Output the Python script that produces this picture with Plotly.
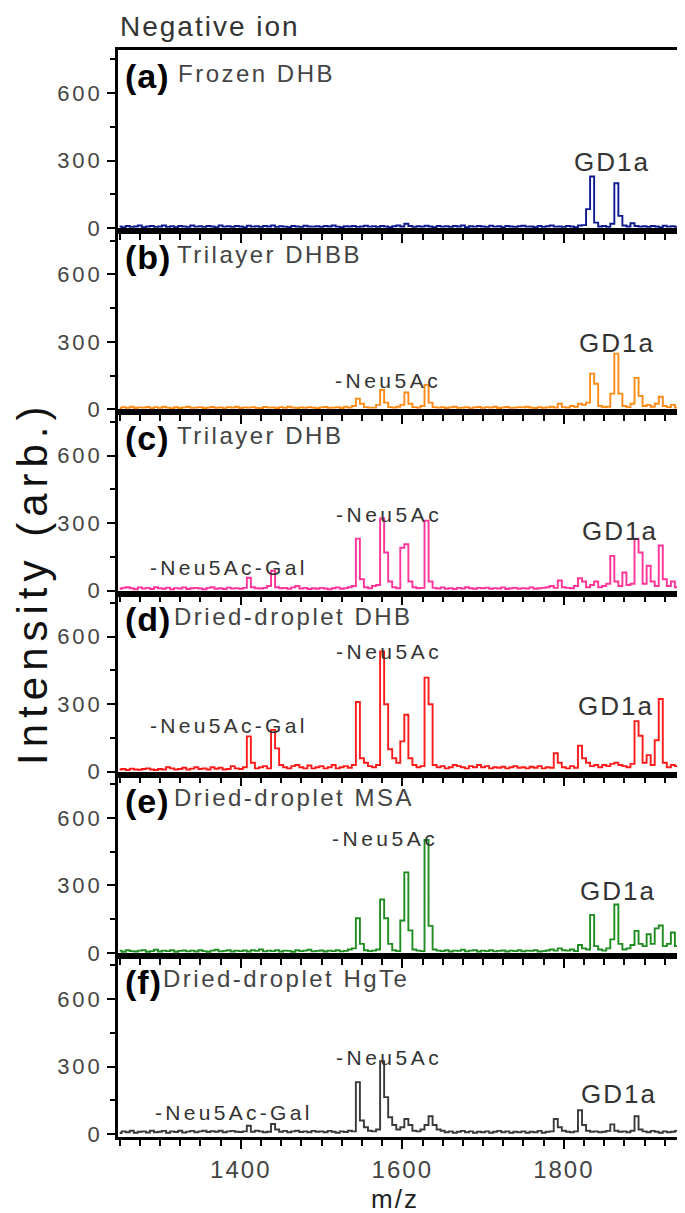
import plotly.graph_objects as go
from plotly.subplots import make_subplots

# m/z grid (step 5)
mz = list(range(1250, 1955, 5))

frozen_dhb = [
    8, 5, 10, 6, 8, 12, 5, 8, 10, 6,        # 1250
    8, 12, 6, 9, 5, 10, 8, 6, 12, 7,        # 1300
    9, 6, 10, 8, 5, 12, 7, 9, 6, 10,        # 1350
    8, 5, 11, 7, 9, 6, 10, 8, 12, 6,        # 1400
    9, 7, 5, 10, 8, 6, 11, 8, 7, 9,         # 1450
    6, 10, 8, 12, 7, 5, 9, 8, 10, 6,        # 1500
    8, 11, 7, 9, 6, 10, 8, 5, 9, 12,        # 1550
    8, 20, 10, 6, 9, 7, 11, 8, 5, 10,       # 1600
    7, 9, 6, 10, 8, 12, 5, 9, 7, 10,        # 1650
    8, 6, 11, 7, 9, 5, 10, 8, 6, 9,         # 1700
    11, 7, 8, 5, 10, 6, 9, 12, 7, 8,        # 1750
    6, 10, 8, 5, 12, 14, 85, 230, 25, 8,    # 1800
    10, 6, 20, 200, 55, 12, 8, 22, 10, 7,   # 1850
    9, 6, 10, 8, 5, 11, 7, 9, 6, 10,        # 1900
    8]                                      # 1950

trilayer_dhbb = [
    5, 10, 7, 12, 6, 9, 8, 11, 5, 10,
    7, 12, 8, 5, 10, 6, 9, 12, 7, 8,
    10, 6, 8, 11, 7, 9, 5, 10, 8, 12,
    6, 9, 8, 10, 7, 5, 11, 8, 9, 6,
    10, 7, 12, 8, 6, 9, 7, 10, 8, 5,
    9, 11, 7, 8, 10, 6, 12, 8, 15, 48,
    25, 10, 8, 8, 20, 86, 30, 10, 8, 12,
    20, 75, 25, 10, 8, 15, 109, 30, 10, 8,
    10, 6, 9, 12, 7, 8, 10, 5, 9, 11,
    7, 10, 8, 12, 6, 9, 11, 7, 8, 10,
    9, 12, 8, 6, 10, 7, 9, 12, 8, 25,
    10, 8, 15, 12, 25, 20, 30, 159, 114, 15,
    10, 12, 70, 248, 70, 15, 10, 25, 140, 60,
    15, 20, 12, 25, 56, 15, 10, 20, 8, 15,
    10]

trilayer_dhb = [
    8, 12, 15, 10, 6, 14, 9, 12, 7, 15,
    10, 8, 13, 6, 11, 9, 14, 7, 10, 12,
    9, 6, 12, 15, 8, 10, 7, 13, 9, 11,
    8, 12, 57, 15, 10, 9, 12, 20, 88, 15,
    10, 12, 8, 14, 20, 9, 12, 7, 10, 8,
    12, 9, 6, 10, 14, 8, 11, 15, 20, 231,
    50, 15, 10, 20, 25, 321, 169, 40, 15, 10,
    190, 206, 40, 15, 10, 12, 311, 40, 12, 9,
    14, 8, 11, 7, 12, 9, 15, 10, 8, 12,
    10, 13, 8, 11, 9, 14, 7, 10, 12, 8,
    11, 9, 14, 8, 10, 12, 15, 20, 12, 45,
    15, 12, 10, 20, 55, 40, 15, 25, 40, 15,
    20, 30, 154, 40, 20, 80, 25, 30, 231, 169,
    30, 110, 40, 20, 200, 50, 20, 40, 15, 20,
    15]

dried_dhb = [
    10, 12, 8, 14, 10, 9, 12, 15, 10, 8,
    12, 10, 20, 15, 10, 12, 18, 10, 14, 20,
    12, 15, 10, 20, 13, 18, 10, 12, 25, 15,
    12, 20, 157, 40, 15, 20, 25, 15, 186, 104,
    30, 20, 15, 25, 30, 20, 15, 28, 15, 20,
    25, 15, 20, 30, 15, 20, 25, 18, 30, 310,
    60, 40, 25, 20, 30, 535, 300, 100, 60, 40,
    135, 253, 60, 30, 20, 25, 418, 300, 30, 20,
    25, 15, 20, 30, 25, 20, 15, 25, 20, 30,
    20, 25, 15, 20, 18, 22, 15, 20, 25, 18,
    20, 15, 22, 18, 25, 15, 20, 18, 82, 40,
    20, 15, 25, 18, 116, 60, 40, 25, 30, 20,
    30, 25, 35, 40, 30, 25, 20, 35, 225, 160,
    40, 74, 30, 140, 323, 40, 20, 30, 25, 20,
    25]

dried_msa = [
    10, 5, 12, 8, 6, 10, 12, 5, 8, 14,
    6, 10, 8, 12, 5, 9, 11, 7, 10, 6,
    12, 8, 5, 10, 14, 7, 9, 12, 6, 10,
    8, 11, 6, 12, 9, 15, 7, 10, 8, 12,
    6, 10, 9, 5, 12, 8, 10, 14, 7, 9,
    11, 6, 10, 8, 12, 7, 9, 15, 20, 154,
    40, 12, 8, 10, 15, 237, 154, 40, 12, 8,
    144, 358, 100, 15, 10, 8, 502, 120, 15, 10,
    8, 12, 6, 10, 9, 14, 7, 10, 12, 6,
    10, 8, 12, 7, 9, 11, 6, 10, 8, 12,
    7, 10, 9, 12, 6, 8, 11, 15, 10, 20,
    12, 10, 15, 8, 35, 20, 15, 169, 30, 15,
    10, 20, 60, 215, 40, 15, 20, 35, 98, 40,
    30, 83, 40, 109, 122, 30, 40, 91, 30, 80,
    10]

dried_hgte = [
    5, 12, 8, 15, 6, 10, 12, 7, 15, 8,
    10, 14, 6, 12, 9, 15, 7, 11, 14, 8,
    12, 15, 9, 13, 10, 15, 8, 12, 14, 10,
    9, 12, 37, 10, 15, 12, 8, 10, 45, 20,
    10, 14, 8, 12, 15, 9, 12, 8, 14, 10,
    12, 8, 14, 10, 6, 12, 9, 15, 12, 231,
    60, 30, 15, 12, 20, 324, 164, 75, 40, 20,
    30, 67, 40, 15, 12, 20, 40, 79, 40, 20,
    15, 8, 12, 6, 10, 14, 8, 12, 6, 10,
    8, 12, 6, 10, 14, 8, 12, 6, 10, 8,
    12, 6, 10, 8, 14, 6, 10, 12, 67, 30,
    15, 10, 8, 12, 106, 40, 15, 10, 12, 8,
    10, 14, 43, 15, 10, 12, 8, 15, 79, 20,
    12, 8, 14, 10, 6, 12, 8, 10, 14, 8,
    10]

series = [frozen_dhb, trilayer_dhbb, trilayer_dhb, dried_dhb, dried_msa, dried_hgte]
colors = ["#0d1a8f", "#ff8a14", "#ff3399", "#ff1a1a", "#1e8c1e", "#3a3a3a"]
panel_tags = ["(a)", "(b)", "(c)", "(d)", "(e)", "(f)"]
panel_names = ["Frozen DHB", "Trilayer DHBB", "Trilayer DHB",
               "Dried-droplet DHB", "Dried-droplet MSA", "Dried-droplet HgTe"]
name_left_px = [168, 167, 167, 164, 164, 153]

gd1a_pos = [(1859, 293), (1866, 296), (1870, 265), (1865, 292), (1867, 275), (1868, 178)]
neu_pos = [None, (1582, 128), (1584, 336), (1584, 536), (1579, 510), (1584, 342)]
gal_pos = [None, None, (1386, 101), (1386, 207), None, (1391, 98)]

x_ticks = [1400, 1600, 1800]
y_ticks = [0, 300, 600]

FONT = "Liberation Sans, Arial, sans-serif"


def sp(text, ls):
    return '<span style="letter-spacing:%spx">%s</span>' % (ls, text)


fig = make_subplots(rows=6, cols=1, shared_xaxes=True, vertical_spacing=0)

for i, (s, c) in enumerate(zip(series, colors), start=1):
    fig.add_trace(go.Scatter(x=mz, y=s, mode="lines",
                             line=dict(color=c, width=1.9, shape="hvh"),
                             showlegend=False, hoverinfo="skip"),
                  row=i, col=1)
    fig.update_xaxes(range=[1248, 1950], showline=True, mirror=True,
                     linecolor="black", linewidth=2.5,
                     ticks="outside", ticklen=9, tickwidth=2, tickcolor="black",
                     tickvals=x_ticks, ticktext=[sp(str(v), 2) for v in x_ticks],
                     tickfont=dict(size=24, color="#444", family=FONT),
                     minor=dict(tickmode="linear", tick0=1250, dtick=25, ticks="outside",
                                ticklen=6, tickwidth=1.5, tickcolor="black", showgrid=False),
                     showgrid=False, zeroline=False, showticklabels=(i == 6),
                     row=i, col=1)
    fig.update_yaxes(range=[-13, 792], showline=True, mirror=True,
                     linecolor="black", linewidth=2.5,
                     ticks="outside", ticklen=8, tickwidth=1.5, tickcolor="black",
                     tickvals=y_ticks, ticktext=[sp(str(v), 3) for v in y_ticks],
                     tickfont=dict(size=22, color="#444", family=FONT),
                     minor=dict(tickmode="linear", tick0=150, dtick=300, ticks="outside",
                                ticklen=5, tickwidth=1.5, tickcolor="black", showgrid=False),
                     showgrid=False, zeroline=False,
                     row=i, col=1)

annotations = []
for k in range(6):
    xs = "" if k == 0 else str(k + 1)
    annotations.append(dict(text="<b>" + sp(panel_tags[k], 1) + "</b>",
                            xref="x%s domain" % xs, yref="y%s domain" % xs,
                            x=0.0088, y=0.857, xanchor="left", yanchor="middle",
                            showarrow=False, font=dict(size=34, color="black", family=FONT)))
    annotations.append(dict(text=sp(panel_names[k], 2.5),
                            xref="x%s domain" % xs, yref="y%s domain" % xs,
                            x=(name_left_px[k] - 110) / 570.0, y=0.873,
                            xanchor="left", yanchor="middle", showarrow=False,
                            font=dict(size=24, color="#444", family=FONT)))
    gx, gy = gd1a_pos[k]
    annotations.append(dict(text=sp("GD1a", 2), xref="x" + xs, yref="y" + xs,
                            x=gx, y=gy, xanchor="center", yanchor="middle", showarrow=False,
                            font=dict(size=26, color="#333", family=FONT)))
    if neu_pos[k]:
        nx, ny = neu_pos[k]
        annotations.append(dict(text=sp("-Neu5Ac", 3.5), xref="x" + xs, yref="y" + xs,
                                x=nx, y=ny, xanchor="center", yanchor="middle", showarrow=False,
                                font=dict(size=21, color="#333", family=FONT)))
    if gal_pos[k]:
        lx, ly = gal_pos[k]
        annotations.append(dict(text=sp("-Neu5Ac-Gal", 3.3), xref="x" + xs, yref="y" + xs,
                                x=lx, y=ly, xanchor="center", yanchor="middle", showarrow=False,
                                font=dict(size=21, color="#333", family=FONT)))

annotations.append(dict(text=sp("Negative ion", 2), xref="paper", yref="paper",
                        x=0, y=1.0212, xanchor="left", yanchor="middle", showarrow=False,
                        font=dict(size=28, color="#333", family=FONT)))
annotations.append(dict(text=sp("m/z", 2), xref="paper", yref="paper",
                        x=0.489, y=-0.057, xanchor="center", yanchor="middle", showarrow=False,
                        font=dict(size=26, color="#222", family=FONT)))
annotations.append(dict(text=sp("Intensity (arb.)", 6), xref="paper", yref="paper",
                        x=-0.15, y=0.5097, xanchor="center", yanchor="middle", showarrow=False,
                        textangle=-90, font=dict(size=42, color="#111", family=FONT)))

fig.update_layout(width=685, height=1213, margin=dict(l=110, r=5, t=42, b=84),
                  paper_bgcolor="white", plot_bgcolor="white",
                  font=dict(family=FONT), annotations=annotations, showlegend=False)

fig.write_html("out.html")
